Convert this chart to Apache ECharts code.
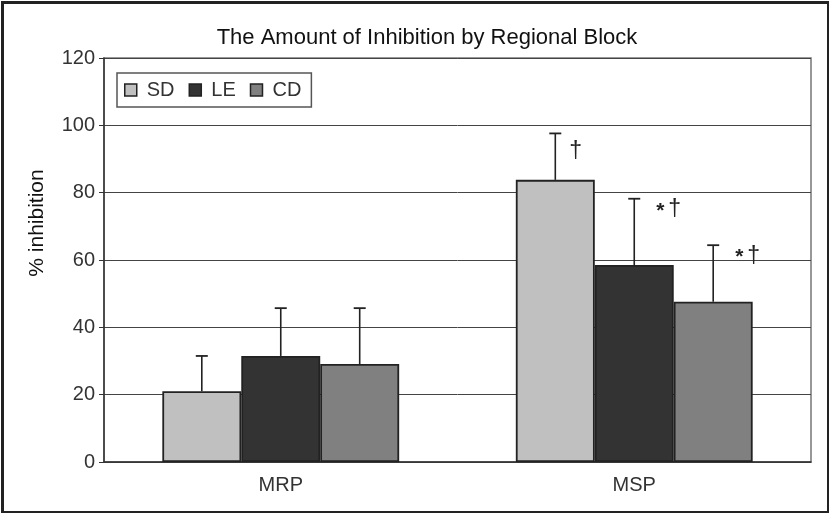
<!DOCTYPE html>
<html><head><meta charset="utf-8">
<script src="https://cdn.jsdelivr.net/npm/echarts@6/dist/echarts.min.js"></script>
<style>html,body{margin:0;padding:0;background:#fff}#c{width:829px;height:513px}</style>
</head><body><div id="c"></div>
<script>
var categories = ["MRP", "MSP"];
var seriesNames = ["SD", "LE", "CD"];
var sdValues = [21, 83.8];
var leValues = [31.5, 58.5];
var cdValues = [29.1, 47.6];
var sdErrTop = [31.5, 97.6];
var leErrTop = [45.7, 78.2];
var cdErrTop = [45.7, 64.4];
var sdNotes = ["", "†"];
var leNotes = ["", "*†"];
var cdNotes = ["", "*†"];
var yTicks = [0, 20, 40, 60, 80, 100, 120];
var yAxisTitle = "% inhibition";
var chartTitle = "The Amount of Inhibition by Regional Block";
var colors = ["#c0c0c0", "#333333", "#808080"];
var FONT = "Liberation Sans, Arial, sans-serif";
var CAT_GAP = 0.33;

var values = [sdValues, leValues, cdValues];
var errTops = [sdErrTop, leErrTop, cdErrTop];
var notes = [sdNotes, leNotes, cdNotes];

var chart = echarts.init(document.getElementById('c'), null, {renderer: 'canvas'});

var errData = [];
for (var s = 0; s < 3; s++) {
  for (var i = 0; i < categories.length; i++) {
    errData.push([i, values[s][i], errTops[s][i], s, notes[s][i]]);
  }
}

function renderErr(params, api) {
  var ci = api.value(0), v = api.value(1), top = api.value(2), s = api.value(3);
  var note = errData[params.dataIndex][4];
  var band = api.size([1, 0])[0];
  var bw = band * (1 - CAT_GAP) / 3;
  var base = api.coord([ci, v]);
  var x = base[0] + (s - 1) * bw;
  var yTop = api.coord([ci, top])[1];
  var children = [
    {type: 'line', shape: {x1: x, y1: base[1], x2: x, y2: yTop}, style: {stroke: '#222', lineWidth: 1.6}},
    {type: 'line', shape: {x1: x - 6, y1: yTop, x2: x + 6, y2: yTop}, style: {stroke: '#222', lineWidth: 1.8}}
  ];
  if (note) {
    if (note.length > 1) {
      children.push({type: 'text', x: x + 22, y: yTop + 12,
        style: {text: note.charAt(0), fill: '#222', font: 'bold 21px ' + FONT, align: 'left', verticalAlign: 'middle'}});
      children.push({type: 'text', x: x + 34, y: yTop + 11,
        style: {text: note.charAt(1), fill: '#222', font: '23px ' + FONT, align: 'left', verticalAlign: 'middle'}});
    } else {
      children.push({type: 'text', x: x + 14, y: yTop + 18,
        style: {text: note, fill: '#222', font: '23px ' + FONT, align: 'left', verticalAlign: 'middle'}});
    }
  }
  return {type: 'group', children: children};
}

var series = seriesNames.map(function (n, s) {
  return {
    name: n, type: 'bar', data: values[s], barGap: '0%', barCategoryGap: (CAT_GAP * 100) + '%',
    itemStyle: {color: colors[s], borderColor: '#222', borderWidth: 1.8},
    emphasis: {disabled: true}, z: 2
  };
});
series.push({
  type: 'custom', renderItem: renderErr, data: errData, z: 3, silent: true,
  encode: {x: 0, y: 2}
});

chart.setOption({
  animation: false,
  textStyle: {fontFamily: FONT},
  title: {
    text: chartTitle, left: 422, top: 22, textAlign: 'center',
    textStyle: {fontSize: 22, fontWeight: 'normal', color: '#111', fontFamily: FONT}
  },
  legend: {
    data: seriesNames, left: 117, top: 73, orient: 'horizontal',
    borderColor: '#555', borderWidth: 1.5, padding: [7, 10, 7, 7],
    itemWidth: 12, itemHeight: 12, itemGap: 14, icon: 'rect',
    itemStyle: {borderColor: '#222', borderWidth: 1.5},
    textStyle: {fontSize: 20, color: '#333', fontFamily: FONT, padding: [0, 0, 0, 5]}
  },
  grid: {left: 104, right: 18, top: 58, bottom: 51, show: true, borderColor: '#777', borderWidth: 1.5},
  xAxis: {
    type: 'category', data: categories,
    axisLine: {lineStyle: {color: '#333', width: 1.5}},
    axisTick: {inside: true, length: 5, lineStyle: {color: '#333'}},
    axisLabel: {fontSize: 20, color: '#333', margin: 13, fontFamily: FONT},
    splitLine: {show: false}
  },
  yAxis: {
    type: 'value', min: yTicks[0], max: yTicks[yTicks.length - 1], interval: 20,
    axisLine: {show: true, lineStyle: {color: '#333', width: 1.5}},
    axisTick: {show: true, length: 5, lineStyle: {color: '#333'}},
    axisLabel: {fontSize: 20, color: '#333', margin: 9, fontFamily: FONT},
    splitLine: {show: true, lineStyle: {color: '#444', width: 1}}
  },
  graphic: [{
    type: 'rect', left: 0, top: 0, z: 100, silent: true,
    shape: {x: 1.5, y: 1.5, width: 826, height: 510},
    style: {fill: 'none', stroke: '#222', lineWidth: 3}
  }, {
    type: 'text', x: 37, y: 223, rotation: Math.PI / 2, silent: true,
    style: {text: yAxisTitle, fill: '#111', font: '21px ' + FONT, align: 'center', verticalAlign: 'middle'}
  }],
  series: series
});
</script></body></html>
